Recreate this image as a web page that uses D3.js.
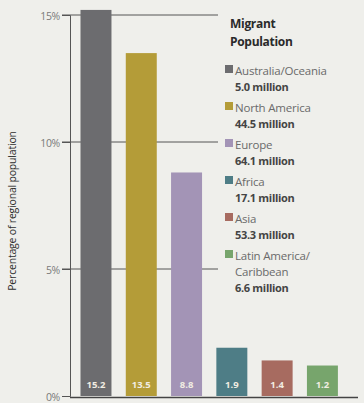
<!DOCTYPE html>
<html>
<head>
<meta charset="utf-8">
<script src="https://cdn.jsdelivr.net/npm/d3@7"></script>
<style>
body { margin: 0; background: #efefeb; }
svg { font-family: "Open Sans", Lato, sans-serif; }
</style>
</head>
<body>
<svg></svg>
<script>
var width = 364;
var height = 403;

var regions = ["Australia/Oceania", "North America", "Europe", "Africa", "Asia", "Latin America/Caribbean"];
var shares = [15.2, 13.5, 8.8, 1.9, 1.4, 1.2];
var migrants = ["5.0 million", "44.5 million", "64.1 million", "17.1 million", "53.3 million", "6.6 million"];
var nameLines = [["Australia/Oceania"], ["North America"], ["Europe"], ["Africa"], ["Asia"], ["Latin America/", "Caribbean"]];
var colors = ["#6c6c6f", "#b49c38", "#a394b6", "#4e7d86", "#a76b60", "#77a56c"];
var yTicks = [0, 5, 10, 15];

var svg = d3.select("svg")
    .attr("width", width)
    .attr("height", height);

var x = d3.scaleBand()
    .domain(regions)
    .range([73.7, 344.7])
    .paddingInner(0.316)
    .paddingOuter(0.15);

var y = d3.scaleLinear()
    .domain([0, 15])
    .range([396, 15]);

// gridlines run under the bars toward the legend
svg.append("g")
    .selectAll("line")
    .data(yTicks.filter(d => d > 0))
    .enter()
    .append("line")
    .attr("x1", 62)
    .attr("x2", 218)
    .attr("y1", d => y(d))
    .attr("y2", d => y(d))
    .attr("stroke", "#555")
    .attr("stroke-width", 1);

var yAxis = svg.append("g")
    .attr("transform", "translate(70,0)")
    .call(d3.axisLeft(y).tickValues(yTicks).tickFormat(d => d + "%").tickSize(8));
yAxis.select(".domain").attr("stroke", "#555");
yAxis.selectAll(".tick line").attr("stroke", "#555");
yAxis.selectAll("text")
    .attr("fill", "#7a7a7a")
    .attr("font-size", 10.5)
    .attr("font-family", "'Open Sans', sans-serif")
    .attr("letter-spacing", -0.3)
    .attr("x", -10)
    .attr("dy", "0.45em");

svg.append("text")
    .attr("transform", "translate(16,211) rotate(-90)")
    .attr("text-anchor", "middle")
    .attr("font-size", 10.5)
    .attr("letter-spacing", -0.2)
    .attr("fill", "#2e2e2e")
    .text("Percentage of regional population");

svg.append("g")
    .selectAll("rect")
    .data(regions)
    .enter()
    .append("rect")
    .attr("x", d => x(d))
    .attr("y", (d, i) => y(shares[i]))
    .attr("width", x.bandwidth())
    .attr("height", (d, i) => y(0) - y(shares[i]))
    .attr("fill", (d, i) => colors[i]);

svg.append("g")
    .selectAll("text")
    .data(regions)
    .enter()
    .append("text")
    .attr("x", d => x(d) + x.bandwidth() / 2)
    .attr("y", 388)
    .attr("text-anchor", "middle")
    .attr("font-size", 9.5)
    .attr("font-weight", "bold")
    .attr("fill", "#f1ede2")
    .text((d, i) => shares[i]);

svg.append("line")
    .attr("x1", 70)
    .attr("x2", 358)
    .attr("y1", y(0) + 1.5)
    .attr("y2", y(0) + 1.5)
    .attr("stroke", "#444")
    .attr("stroke-width", 1.5);

// legend
var lg = svg.append("g").attr("transform", "translate(225,0)");
lg.append("text").attr("x", 5).attr("y", 28)
    .attr("font-size", 12).attr("font-weight", "bold").attr("fill", "#2a2a2a")
    .attr("letter-spacing", -0.3)
    .text("Migrant");
lg.append("text").attr("x", 5).attr("y", 46)
    .attr("font-size", 12).attr("font-weight", "bold").attr("fill", "#2a2a2a")
    .attr("letter-spacing", -0.3)
    .text("Population");

var item = lg.selectAll("g.item")
    .data(regions)
    .enter()
    .append("g")
    .attr("class", "item")
    .attr("transform", (d, i) => "translate(0," + (75 + i * 37) + ")");

item.append("rect")
    .attr("y", -10)
    .attr("width", 8)
    .attr("height", 8)
    .attr("fill", (d, i) => colors[i]);

item.each(function(d, i) {
    var g = d3.select(this);
    nameLines[i].forEach(function(t, j) {
        g.append("text")
            .attr("x", 10)
            .attr("y", j * 16)
            .attr("font-size", 11.5)
            .attr("letter-spacing", -0.2)
            .attr("fill", "#6a6a6a")
            .text(t);
    });
    g.append("text")
        .attr("x", 10)
        .attr("y", nameLines[i].length * 16)
        .attr("font-size", 11)
        .attr("font-weight", "bold")
        .attr("letter-spacing", -0.3)
        .attr("fill", "#444")
        .text(migrants[i]);
});
</script>
</body>
</html>
